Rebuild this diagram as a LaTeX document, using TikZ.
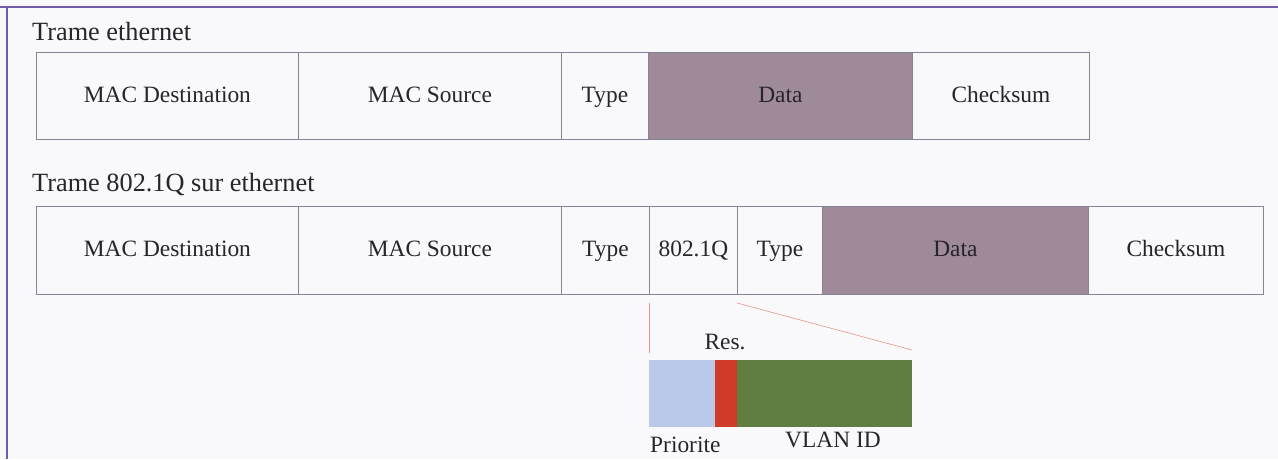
\documentclass[tikz,border=0pt]{standalone}
\usepackage{fontspec}
\setmainfont{Liberation Serif}
\definecolor{paper}{RGB}{249,249,251}
\definecolor{rule}{RGB}{112,92,168}
\definecolor{cellline}{RGB}{132,132,150}
\definecolor{ink}{RGB}{40,36,44}
\definecolor{payload}{RGB}{158,138,152}
\definecolor{prio}{RGB}{186,200,234}
\definecolor{resv}{RGB}{206,60,40}
\definecolor{vlan}{RGB}{96,126,66}
\definecolor{zoomline}{RGB}{226,150,130}
\begin{document}
\begin{tikzpicture}[x=1pt,y=-1pt,
  cell/.style={draw=cellline, line width=0.8pt, inner sep=0pt, anchor=north west,
    text height=18pt, text depth=5pt,
    font=\fontsize{23.4}{28}\selectfont, text=ink},
  row1/.style={cell, minimum height=87pt},
  row2/.style={cell, minimum height=88pt},
  datacell/.style={fill=payload},
  title/.style={anchor=west, inner sep=0pt, font=\fontsize{26.3}{31}\selectfont, text=ink},
  bit/.style={draw=none, inner sep=0pt, anchor=north west, minimum height=67pt},
  lbl/.style={inner sep=0pt, font=\fontsize{23.4}{28}\selectfont, text=ink},
  zoom/.style={draw=zoomline, line width=0.6pt}
]
% page and frame rules
\fill[paper] (0,0) rectangle (1278,459);
\useasboundingbox (0,0) rectangle (1278,459);
\draw[rule, line width=2pt] (0,7) -- (1278,7);
\draw[rule, line width=2pt] (7,7) -- (7,459);

% plain ethernet frame
\node[title] (t1) at (32,31) {Trame ethernet};
\node[row1, minimum width=262pt] (a1) at (36,52) {MAC Destination};
\node[row1, minimum width=263pt] (a2) at (298,52) {MAC Source};
\node[row1, minimum width=87pt]  (a3) at (561,52) {Type};
\node[row1, datacell, minimum width=264pt] (a4) at (648,52) {Data};
\node[row1, minimum width=177pt] (a5) at (912,52) {Checksum};

% 802.1Q tagged frame
\node[title] (t2) at (32,185) {Trame 802.1Q sur ethernet};
\node[row2, minimum width=262pt] (b1) at (36,206) {MAC Destination};
\node[row2, minimum width=263pt] (b2) at (298,206) {MAC Source};
\node[row2, minimum width=88pt]  (b3) at (561,206) {Type};
\node[row2, minimum width=88pt]  (b4) at (649,206) {802.1Q};
\node[row2, minimum width=85pt]  (b5) at (737,206) {Type};
\node[row2, datacell, minimum width=266pt] (b6) at (822,206) {Data};
\node[row2, minimum width=175pt] (b7) at (1088,206) {Checksum};

% tag control field
\node[bit, fill=prio, minimum width=66pt] (pr) at (649,360) {};
\node[bit, fill=resv, minimum width=22pt] (rs) at (715,360) {};
\node[bit, fill=vlan, minimum width=175pt] (vid) at (737,360) {};

\node[lbl] (lres) at (725,342) {Res.};
\node[lbl, anchor=base west] (lprio) at (650,452) {Priorite};
\node[lbl, anchor=base] (lvid) at (833,447) {VLAN ID};

% zoom lines from the tag to its fields
\coordinate (z1) at (649,303);
\coordinate (z2) at (649,353);
\coordinate (z3) at (737,303);
\coordinate (z4) at (912,350);
\draw[zoom] (z1) -- (z2);
\draw[zoom] (z3) -- (z4);
\end{tikzpicture}
\end{document}
